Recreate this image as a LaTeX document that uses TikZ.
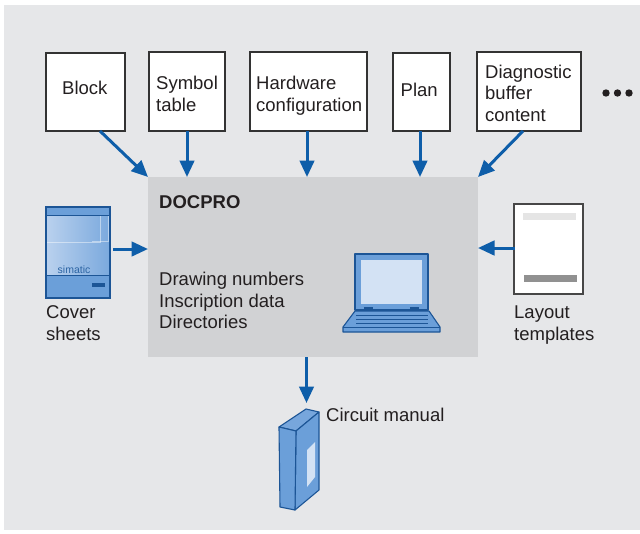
\documentclass[tikz,border=0pt]{standalone}
\usepackage{fontspec}
\setmainfont{Liberation Sans}
\usetikzlibrary{arrows.meta,calc}
\definecolor{bg}{HTML}{E6E7E9}
\definecolor{docgray}{HTML}{D1D2D4}
\definecolor{ink}{HTML}{231F20}
\definecolor{boxline}{HTML}{333333}
\definecolor{arrblue}{HTML}{0E5EA9}
\definecolor{dkblue}{HTML}{1C5596}
\definecolor{mdblue}{HTML}{6B9FD9}
\definecolor{ltblue}{HTML}{D3E2F4}
\definecolor{paleblue}{HTML}{B9D1EE}
\newcommand{\lblfont}{\fontsize{18.5}{21.6}\selectfont}
\begin{document}
\begin{tikzpicture}[x=1pt,y=-1pt,
  box/.style={draw=boxline, fill=white, line width=1.1pt, inner sep=0, outer sep=0},
  lbl/.style={anchor=base west, inner sep=0, align=left, font=\lblfont, text=ink},
  arr/.style={draw=arrblue, line width=3pt, -{Triangle[length=16.5pt,width=14.5pt]}},
  icon/.style={draw=dkblue, line width=1.1pt, line join=round}]
\useasboundingbox (0,0) rectangle (640,533);
\fill[bg] (4,5) rectangle (640,530);

% source boxes along the top
\node[box, minimum width=79pt, minimum height=78pt] (block) at (85.5,92) {};
\node[box, minimum width=76pt, minimum height=79pt] (symtab) at (187,91.5) {};
\node[box, minimum width=117pt, minimum height=79pt] (hwconf) at (308.5,91.5) {};
\node[box, minimum width=57pt, minimum height=78pt] (plan) at (421.5,92) {};
\node[box, minimum width=104pt, minimum height=79pt] (diag) at (529,91.5) {};

% multi-line labels are anchored on the baseline of their last line
\node[lbl] (tblock) at (62,94) {Block};
\node[lbl] (tsym) at (156,111.1) {Symbol\\table};
\node[lbl] (thw) at (256,111.1) {Hardware\\configuration};
\node[lbl] (tplan) at (400.5,96) {Plan};
\node[lbl] (tdiag) at (485,121.5) {Diagnostic\\buffer\\content};

% continuation dots
\foreach \px/\nm in {606/d1,617.5/d2,629/d3}
  \fill[ink] (\px,93) circle (3.7pt) coordinate (\nm);

% central DOCPRO area
\node[fill=docgray, minimum width=330pt, minimum height=180pt, inner sep=0, outer sep=0] (docpro) at (313,267) {};
\node[lbl, font=\lblfont\bfseries] (tdoc) at (159,208.6) {DOCPRO};
\node[lbl] (tdocl) at (159,328.8) {Drawing numbers\\Inscription data\\Directories};

% laptop
\draw[icon, fill=mdblue] (343,327) -- (355,311) -- (429,311) -- (440,327) -- (440,332) -- (343,332) -- cycle;
\draw[dkblue, line width=0.8pt] (343,327) -- (440,327);
\foreach \ky in {315.5,319.5,323.5}
  \draw[dkblue, line width=0.9pt] (356,\ky) -- (428,\ky);
\draw[icon, fill=mdblue] (355,254) rectangle (428,310);
\fill[ltblue] (361,260) rectangle (422,304);
\fill[dkblue] (364,307) rectangle (373,309.5);
\fill[dkblue] (410,307) rectangle (419,309.5);

% cover sheet
\node[draw=dkblue, line width=1.1pt, fill=mdblue, minimum width=64pt, minimum height=91pt, inner sep=0, outer sep=0] (cover) at (78,252.5) {};
\shade[left color=paleblue, right color=mdblue!80!paleblue] (46.6,215) rectangle (109.4,275);
\draw[white, opacity=0.45, line width=0.6pt] (46.6,242.5) -- (100,242.5) -- (100,215);
\draw[white, opacity=0.45, line width=0.6pt] (92,241) -- (108,241) -- (108,215);
\draw[dkblue, line width=1pt] (46,215) -- (110,215);
\draw[dkblue, line width=1pt] (46,275) -- (110,275);
\fill[dkblue] (92,283) rectangle (105,286.5);
\node[anchor=base west, inner sep=0, font=\fontsize{10.5}{11}\selectfont, text=dkblue!80!mdblue] (simatic) at (57.5,273.3) {simatic};
\draw[dkblue, line width=1.1pt] (cover.north west) rectangle (cover.south east);
\node[lbl] (tcover) at (46,340.2) {Cover\\sheets};

% layout template
\node[box, draw=boxline!90, minimum width=69pt, minimum height=90pt] (layout) at (548.5,249) {};
\fill[black!10] (523,213) rectangle (576,220);
\fill[black!43] (524,275) rectangle (577,282);
\node[lbl] (tlayout) at (514,340.2) {Layout\\templates};

% circuit manual (book)
\draw[icon, fill=mdblue!85!paleblue] (279,427) -- (306,409) -- (319,412) -- (296,431) -- cycle;
\draw[icon, fill=mdblue] (296,431) -- (319,412) -- (319,490) -- (295,510) -- cycle;
\draw[icon, fill=mdblue] (279,427) -- (296,431) -- (295,510) -- (280,507) -- cycle;
\fill[ltblue] (307,450) -- (315,442) -- (315,477) -- (307,487) -- cycle;
\coordinate (booktop) at (306.5,403);
\node[lbl] (tbook) at (326,421.6) {Circuit manual};

% connectors
\draw[arr] ([xshift=14.5pt]block.south) -- (docpro.north west);
\draw[arr] (symtab.south) -- (symtab.south |- docpro.north);
\draw[arr] ([xshift=-1.5pt]hwconf.south) -- ([xshift=-1.5pt]hwconf.south |- docpro.north);
\draw[arr] ([xshift=-1.5pt]plan.south) -- ([xshift=-1.5pt]plan.south |- docpro.north);
\draw[arr] ([xshift=-6pt]diag.south) -- (docpro.north east);
\coordinate (cin) at ([xshift=3pt,yshift=3.5pt]cover.east);
\draw[arr] (cin) -- (cin -| docpro.west);
\coordinate (lin) at ([xshift=0.5pt,yshift=1pt]layout.west);
\draw[arr] (lin) -- (lin -| docpro.east);
\draw[arr] (booktop |- docpro.south) -- (booktop);
\end{tikzpicture}
\end{document}
